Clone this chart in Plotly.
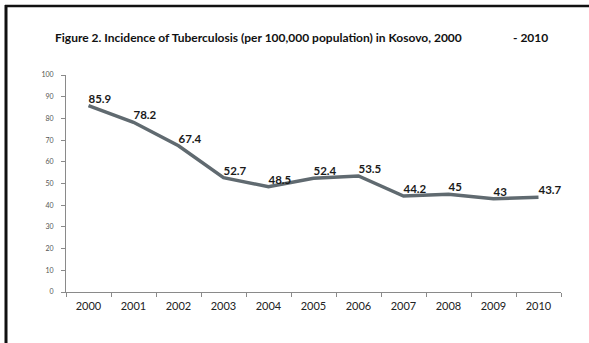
import plotly.graph_objects as go

years = ["2000", "2001", "2002", "2003", "2004", "2005", "2006", "2007", "2008", "2009", "2010"]
incidence = [85.9, 78.2, 67.4, 52.7, 48.5, 52.4, 53.5, 44.2, 45, 43, 43.7]
labels = ["85.9", "78.2", "67.4", "52.7", "48.5", "52.4", "53.5", "44.2", "45", "43", "43.7"]
y_ticks = [0, 10, 20, 30, 40, 50, 60, 70, 80, 90, 100]

W, H = 589, 343
ml, mr, mt, mb = 66, 28, 75, 51
pw, ph = W - ml - mr, H - mt - mb

def px_x(px):
    return (px - ml) / pw

def px_y(py):
    return (H - mb - py) / ph

fig = go.Figure()
fig.add_trace(go.Scatter(
    x=years, y=incidence, mode="lines+text",
    text=labels, textposition="top right",
    textfont=dict(family="Lato", size=11.5, color="#1a1a1a", weight="bold"),
    line=dict(color="#606a70", width=3.5),
    hoverinfo="skip", showlegend=False, cliponaxis=False,
))

fig.update_layout(
    width=W, height=H,
    margin=dict(l=ml, r=mr, t=mt, b=mb),
    paper_bgcolor="white", plot_bgcolor="white",
    showlegend=False,
    xaxis=dict(
        type="category", range=[-0.5, 10.5],
        showgrid=False, zeroline=False,
        showline=True, linecolor="#8a8a8a", linewidth=1,
        ticks="outside", ticklen=4, tickcolor="#8a8a8a", tickson="boundaries",
        tickfont=dict(family="Lato", size=11, color="#222222"),
        ticklabelstandoff=4,
    ),
    yaxis=dict(
        range=[0, 100], tickvals=y_ticks,
        showgrid=False, zeroline=False,
        showline=True, linecolor="#8a8a8a", linewidth=1,
        ticks="outside", ticklen=4, tickcolor="#8a8a8a",
        tickfont=dict(family="Lato", size=7, color="#555555"),
        ticklabelstandoff=6,
    ),
    shapes=[
        dict(type="line", xref="paper", yref="paper",
             x0=px_x(6), x1=px_x(6), y0=px_y(5), y1=px_y(343),
             line=dict(color="#111111", width=3)),
        dict(type="line", xref="paper", yref="paper",
             x0=px_x(5), x1=px_x(589), y0=px_y(6), y1=px_y(6),
             line=dict(color="#111111", width=2.5)),
    ],
    annotations=[
        dict(text="<b>Figure 2. Incidence of Tuberculosis (per 100,000 population) in Kosovo, 2000</b>",
             xref="paper", yref="paper", x=px_x(53), y=px_y(38),
             xanchor="left", yanchor="middle", showarrow=False,
             font=dict(family="Lato", size=12, color="#111111")),
        dict(text="<b>- 2010</b>",
             xref="paper", yref="paper", x=px_x(511), y=px_y(38),
             xanchor="left", yanchor="middle", showarrow=False,
             font=dict(family="Lato", size=12, color="#111111")),
    ],
)

fig.write_html("out.html")
